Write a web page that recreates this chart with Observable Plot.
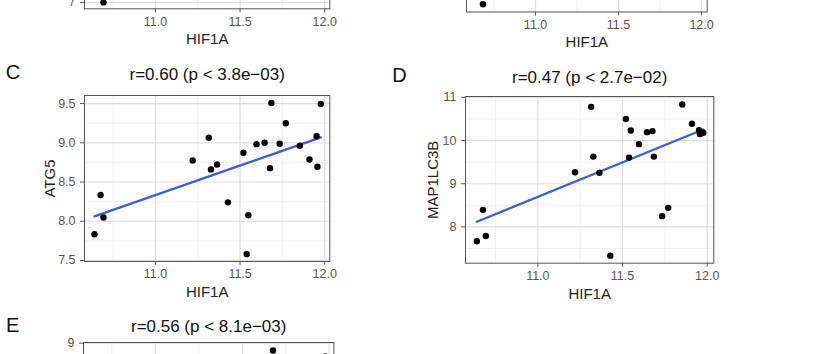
<!DOCTYPE html>
<html><head><meta charset="utf-8">
<script src="https://cdn.jsdelivr.net/npm/d3@7"></script>
<script src="https://cdn.jsdelivr.net/npm/@observablehq/plot@0.6"></script>
<style>
html,body{margin:0;padding:0;background:#fff;}
#fig{position:relative;width:832px;height:354px;overflow:hidden;background:#fff;font-family:"Liberation Sans",Arial,sans-serif;}
#fig svg{position:absolute;}
</style></head><body><div id="fig"></div>
<script>
// shared x values (HIF1A expression)
const hif1a = [10.64, 10.676, 10.693, 11.22, 11.315, 11.328, 11.364, 11.428, 11.52, 11.539, 11.549,
               11.597, 11.645, 11.677, 11.685, 11.734, 11.77, 11.853, 11.91, 11.952, 11.957, 11.977];
const atg5 = [7.835, 8.334, 8.047, 8.775, 9.064, 8.661, 8.724, 8.241, 8.873, 7.581, 8.076,
              8.983, 9.0, 8.677, 9.508, 8.987, 9.249, 8.962, 8.788, 9.084, 8.695, 9.496];
const map1lc3b = [7.667, 8.395, 7.791, 9.265, 10.78, 9.628, 9.256, 7.335, 10.498, 9.605, 10.233,
                  9.916, 10.195, 10.219, 9.628, 8.249, 8.442, 10.837, 10.388, 10.24, 10.15, 10.18];
// partially visible panels (only the visible points)
const panelAx = [10.693], panelAy = [7.0];
const panelBx = [10.683], panelBy = [7.34];
const panelEx = [11.677, 11.977], panelEy = [8.884, 8.79];

const xTicks = [11.0, 11.5, 12.0];
const xMinor = [10.75, 11.25, 11.75];
const atg5Ticks = [7.5, 8.0, 8.5, 9.0, 9.5];
const atg5Minor = [7.75, 8.25, 8.75, 9.25];
const mapTicks = [8, 9, 10, 11];
const mapMinor = [7.5, 8.5, 9.5, 10.5];
const aTicks = [7];
const eTicks = [9];

const titleC = "r=0.60 (p < 3.8e\u221203)";
const titleD = "r=0.47 (p < 2.7e\u221202)";
const titleE = "r=0.56 (p < 8.1e\u221203)";
const xLabel = "HIF1A";

const fig = document.getElementById("fig");
const FONT = "Liberation Sans, Arial, sans-serif";
const BLUE = "#3a60d2";

function panel(o) {
  const [fl, ft, fr, fb] = o.frame;
  const pl = 95, pt = 40, pr = 20, pb = 45;
  const data = o.x.map((x, i) => ({x, y: o.y[i]}));
  const marks = [];
  if (o.xMinor) marks.push(Plot.gridX(o.xMinor, {stroke: "#ececec", strokeOpacity: 1, strokeWidth: 0.8}));
  if (o.yMinor) marks.push(Plot.gridY(o.yMinor, {stroke: "#ececec", strokeOpacity: 1, strokeWidth: 0.8}));
  marks.push(Plot.gridX(xTicks, {stroke: "#dedede", strokeOpacity: 1, strokeWidth: 1.2}));
  marks.push(Plot.gridY(o.yTicks, {stroke: "#dedede", strokeOpacity: 1, strokeWidth: 1.2}));
  if (o.xAxis !== false) {
    marks.push(Plot.axisX(xTicks, {tickFormat: d3.format(".1f"), tickSize: 4, tickPadding: 4, fontSize: 12.5, color: "#555", label: null}));
    marks.push(Plot.text([xLabel], {text: d => d, frameAnchor: "bottom", dy: o.xlabDy, lineAnchor: "middle", fontSize: 15, fill: "#222"}));
  }
  marks.push(Plot.axisY(o.yTicks, {tickFormat: o.yFmt, tickSize: 4, tickPadding: 5, fontSize: 12.5, color: "#555", label: null}));
  marks.push(Plot.frame({stroke: "#555", strokeWidth: 1}));
  if (o.fit) marks.push(Plot.linearRegressionY(data, {x: "x", y: "y", stroke: BLUE, strokeWidth: 2.3, ci: 0}));
  marks.push(Plot.dot(data, {x: "x", y: "y", r: 3.2, fill: "#000", stroke: "none"}));
  if (o.ylabel) marks.push(Plot.text([o.ylabel], {text: d => d, frameAnchor: "left", dx: o.ylabDx, rotate: -90, textAnchor: "middle", lineAnchor: "middle", fontSize: 15, fill: "#222"}));
  if (o.title) marks.push(Plot.text([o.title], {text: d => d, frameAnchor: "top", dy: o.titleDy, lineAnchor: "middle", fontSize: 17, fill: "#111"}));
  if (o.letter) marks.push(Plot.text([o.letter], {text: d => d, frameAnchor: "top-left", dx: o.letterD[0], dy: o.letterD[1], textAnchor: "middle", lineAnchor: "middle", fontSize: 20, fill: "#111"}));
  const svg = Plot.plot({
    width: fr - fl + pl + pr, height: fb - ft + pt + pb,
    marginLeft: pl, marginTop: pt, marginRight: pr, marginBottom: pb,
    x: {domain: o.xDomain}, y: {domain: o.yDomain},
    style: {background: "transparent", overflow: "visible", fontFamily: FONT},
    marks
  });
  svg.style.left = (fl - pl) + "px";
  svg.style.top = (ft - pt) + "px";
  fig.append(svg);
}

// Panel A (bottom edge only visible)
panel({frame: [84, -158, 329.3, 8.3], xDomain: [10.581, 12.030], yDomain: [6.9, 9.5],
  x: panelAx, y: panelAy, yTicks: aTicks, yFmt: d3.format("d"), xMinor, xlabDy: 30});
// Panel B
panel({frame: [466, -155, 706.7, 11.5], xDomain: [10.584, 12.034], yDomain: [7.2, 10.2],
  x: panelBx, y: panelBy, yTicks: [], yFmt: d3.format("d"), xMinor, xlabDy: 30});
// Panel C
panel({frame: [84, 95, 329.3, 261], xDomain: [10.581, 12.030], yDomain: [7.487, 9.603],
  x: hif1a, y: atg5, yTicks: atg5Ticks, yMinor: atg5Minor, yFmt: d3.format(".1f"), xMinor,
  fit: true, xlabDy: 31, ylabel: "ATG5", ylabDx: -34, title: titleC, titleDy: -21, letter: "C", letterD: [-71.5, -22.5]});
// Panel D
panel({frame: [465, 96, 713.3, 262.7], xDomain: [10.573, 12.039], yDomain: [7.16, 11.02],
  x: hif1a, y: map1lc3b, yTicks: mapTicks, yMinor: mapMinor, yFmt: d3.format("d"), xMinor,
  fit: true, xlabDy: 30.6, ylabel: "MAP1LC3B", ylabDx: -32, title: titleD, titleDy: -19, letter: "D", letterD: [-66, -21]});
// Panel E (top edge only visible)
panel({frame: [83.3, 342, 333.7, 508], xDomain: [10.587, 12.027], yDomain: [6.4, 9.01],
  x: panelEx, y: panelEy, yTicks: eTicks, yFmt: d3.format("d"), xMinor, xAxis: false,
  title: titleE, titleDy: -15.5, letter: "E", letterD: [-70.8, -16.5]});
</script></body></html>
